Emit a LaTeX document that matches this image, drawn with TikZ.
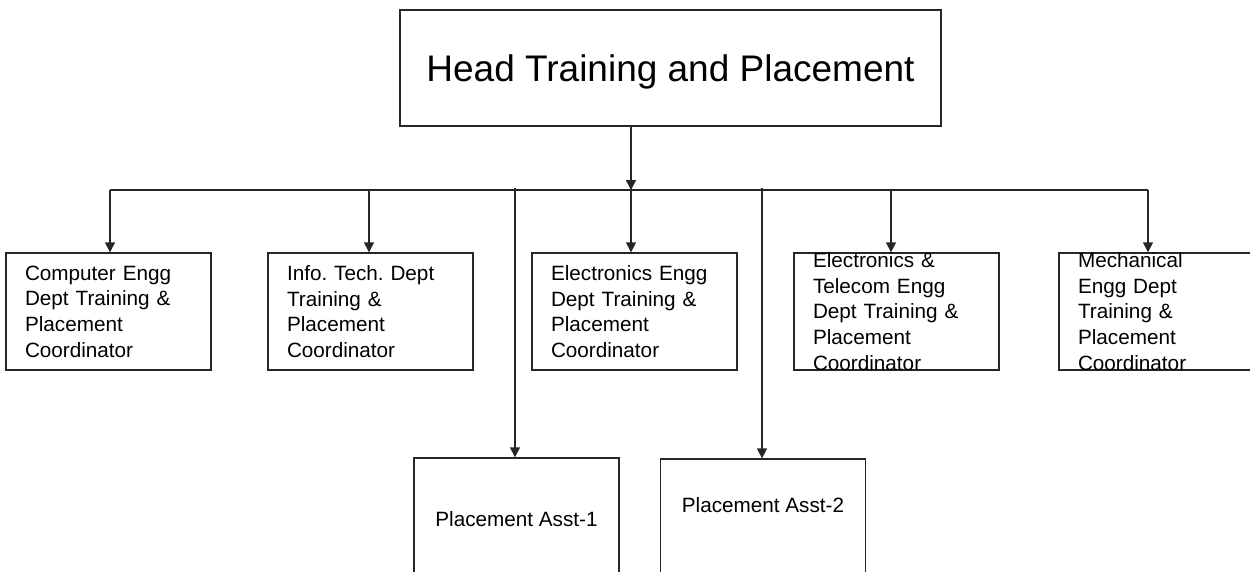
\documentclass[tikz,border=0pt]{standalone}
\usepackage{fontspec}
\setmainfont{Liberation Sans}
\frenchspacing
\usetikzlibrary{arrows.meta}

\begin{document}
\begin{tikzpicture}[x=1pt,y=-1pt,line width=1.4pt,
    deptbox/.style={draw=black!85,rectangle,minimum width=205pt,minimum height=117pt,
      text width=167pt,inner xsep=19pt,inner ysep=-4pt,align=left,
      font=\fontsize{20.7}{25.7}\selectfont},
    asstbox/.style={draw=black!85,rectangle,minimum width=205pt,minimum height=122pt,
      font=\fontsize{20.7}{25.7}\selectfont},
    wire/.style={draw=black!85},
    arr/.style={wire,-{Triangle[length=10pt,width=10pt]}}]

    \useasboundingbox (0,0) rectangle (1250,571);
    \clip (0,0) rectangle (1250,571);

    \pgfmathsetmacro{\busy}{190}
    \pgfmathsetmacro{\depty}{311.5}

    \node[draw=black!85,rectangle,minimum width=541pt,minimum height=116pt,text depth=0pt,
      font=\fontsize{37}{44}\selectfont] (head) at (670.5,68) {Head Training and Placement};

    \node[deptbox] (cse) at (108.5,\depty) {Computer Engg\\Dept Training \&\\Placement\\Coordinator};
    \node[deptbox] (it) at (370.5,\depty) {Info. Tech. Dept\\Training \&\\Placement\\Coordinator};
    \node[deptbox] (ece) at (634.5,\depty) {Electronics Engg\\Dept Training \&\\Placement\\Coordinator};
    \node[deptbox] (etc) at (896.5,\depty) {Electronics \&\\Telecom Engg\\Dept Training \&\\Placement\\Coordinator};
    \node[deptbox] (mech) at (1161.5,\depty) {Mechanical\\Engg Dept\\Training \&\\Placement\\Coordinator};

    \node[asstbox] (asst1) at (516.5,519) {Placement Asst-1};
    \node[asstbox,text height=15pt,text depth=30pt] (asst2) at (763,520) {Placement Asst-2};

    % bus from the head
    \coordinate (hub) at (631,\busy);
    \draw[arr] (head.south -| hub) -- (hub);
    \foreach \x/\n in {110/cse,369/it,631/ece,891/etc,1148/mech}{
        \coordinate (bus-\n) at (\x,\busy);
        \draw[arr] (bus-\n) -- (bus-\n |- \n.north);
    }
    \draw[wire] (bus-cse) -- (bus-mech);

    % assistants
    \foreach \x/\n in {515/asst1,762/asst2}{
        \coordinate (bus-\n) at (\x,\busy-2);
        \draw[arr] (bus-\n) -- (bus-\n |- \n.north);
    }
\end{tikzpicture}
\end{document}
